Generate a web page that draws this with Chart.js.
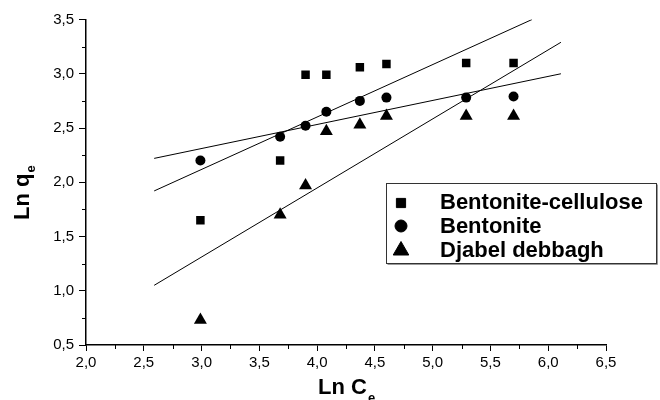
<!DOCTYPE html>
<html>
<head>
<meta charset="utf-8">
<script src="https://cdn.jsdelivr.net/npm/chart.js@4/dist/chart.umd.min.js"></script>
<style>
  html, body { margin: 0; padding: 0; background: #fff; }
  #wrap { width: 660px; height: 400px; position: relative; }
</style>
</head>
<body>
<div id="wrap"><canvas id="isoChart"></canvas></div>
<script>
// Ln Ce values shared by all three materials
const lnCe = [2.99, 3.68, 3.90, 4.08, 4.37, 4.60, 5.29, 5.70];
const lnQeCellulose = [1.65, 2.20, 2.99, 2.99, 3.06, 3.09, 3.10, 3.10];
const lnQeBentonite = [2.20, 2.42, 2.52, 2.65, 2.75, 2.78, 2.78, 2.79];
const lnQeDjabel = [0.73, 1.70, 1.97, 2.47, 2.53, 2.61, 2.61, 2.61];

// linear fit lines (end points)
const fitCelluloseX = [2.59, 5.86];
const fitCelluloseY = [1.92, 3.50];
const fitBentoniteX = [2.59, 6.11];
const fitBentoniteY = [2.22, 3.00];
const fitDjabelX = [2.59, 6.11];
const fitDjabelY = [1.05, 3.29];

const seriesNames = ['Bentonite-cellulose', 'Bentonite', 'Djabel debbagh'];
const xTicks = [2.0, 6.5];
const yTicks = [0.5, 3.5];

const toPoints = (xs, ys) => xs.map((x, i) => ({ x: x, y: ys[i] }));
const fmt = v => v.toFixed(1).replace('.', ',');
const FONT = '"Liberation Sans", Arial, sans-serif';

function fitLine(xs, ys) {
    return {
        type: 'line',
        data: toPoints(xs, ys),
        borderColor: '#000',
        borderWidth: 1,
        pointRadius: 0,
        fill: false,
        inLegend: false
    };
}

// minor ticks, titles with subscripts and the boxed legend
const extras = {
    id: 'extras',
    afterDraw(chart) {
        const ctx = chart.ctx;
        const xs = chart.scales.x, ys = chart.scales.y;
        const area = chart.chartArea;
        ctx.save();
        ctx.strokeStyle = '#000';
        ctx.lineWidth = 1;
        ctx.beginPath();
        for (let v = xTicks[0] + 0.25; v < xTicks[1]; v += 0.5) {
            const px = Math.round(xs.getPixelForValue(v)) + 0.5;
            ctx.moveTo(px, area.bottom);
            ctx.lineTo(px, area.bottom + 4);
        }
        for (let v = yTicks[0] + 0.25; v < yTicks[1]; v += 0.5) {
            const py = Math.round(ys.getPixelForValue(v)) + 0.5;
            ctx.moveTo(area.left, py);
            ctx.lineTo(area.left - 4, py);
        }
        ctx.stroke();

        // axis titles
        ctx.fillStyle = '#000';
        ctx.textBaseline = 'alphabetic';
        ctx.textAlign = 'left';
        ctx.font = 'bold 22px ' + FONT;
        const xt = 'Ln C';
        const xw = ctx.measureText(xt).width;
        const xStart = (area.left + area.right) / 2 - (xw + 7) / 2;
        ctx.fillText(xt, xStart, 394);
        ctx.font = 'bold 13px ' + FONT;
        ctx.fillText('e', xStart + xw + 1, 402);

        ctx.save();
        ctx.translate(29, 220);
        ctx.rotate(-Math.PI / 2);
        ctx.font = 'bold 22px ' + FONT;
        const yt = 'Ln q';
        const yw = ctx.measureText(yt).width;
        ctx.fillText(yt, 0, 0);
        ctx.font = 'bold 13px ' + FONT;
        ctx.fillText('e', yw + 1, 6);
        ctx.restore();

        // legend box
        const bx = 386.5, by = 183.5, bw = 270, bh = 80;
        ctx.fillStyle = '#fff';
        ctx.fillRect(bx, by, bw, bh);
        ctx.strokeStyle = '#999';
        ctx.beginPath();
        ctx.moveTo(bx + bw + 1, by + 1);
        ctx.lineTo(bx + bw + 1, by + bh + 1);
        ctx.lineTo(bx + 1, by + bh + 1);
        ctx.stroke();
        ctx.strokeStyle = '#333';
        ctx.strokeRect(bx, by, bw, bh);

        const rowBase = [209, 233, 257];
        const markY = [203, 226, 250.5];
        const markR = [6.5, 6, 9];
        let row = 0;
        chart.data.datasets.forEach(ds => {
            if (ds.inLegend === false) return;
            ctx.fillStyle = '#000';
            ctx.strokeStyle = '#000';
            Chart.helpers.drawPoint(ctx, {
                pointStyle: ds.pointStyle, radius: markR[row], rotation: 0, borderWidth: 1
            }, 401, markY[row]);
            ctx.font = 'bold 22px ' + FONT;
            ctx.fillStyle = '#000';
            ctx.fillText(ds.label, 440, rowBase[row]);
            row++;
        });
        ctx.restore();
    }
};

const axisCommon = {
    type: 'linear',
    border: { display: true, color: '#000', width: 1.5 },
    grid: { drawOnChartArea: false, drawTicks: true, tickColor: '#000', tickWidth: 1 },
    ticks: {
        stepSize: 0.5,
        color: '#000',
        font: { family: FONT, size: 15 },
        callback: v => fmt(v)
    }
};

new Chart(document.getElementById('isoChart'), {
    type: 'scatter',
    data: {
        datasets: [
            {
                label: seriesNames[0],
                data: toPoints(lnCe, lnQeCellulose),
                pointStyle: 'rect',
                pointRadius: 6,
                backgroundColor: '#000',
                borderColor: '#000',
                borderWidth: 0
            },
            {
                label: seriesNames[1],
                data: toPoints(lnCe, lnQeBentonite),
                pointStyle: 'circle',
                pointRadius: 5,
                backgroundColor: '#000',
                borderColor: '#000',
                borderWidth: 0
            },
            {
                label: seriesNames[2],
                data: toPoints(lnCe, lnQeDjabel),
                pointStyle: 'triangle',
                pointRadius: 7.5,
                backgroundColor: '#000',
                borderColor: '#000',
                borderWidth: 0
            },
            fitLine(fitCelluloseX, fitCelluloseY),
            fitLine(fitBentoniteX, fitBentoniteY),
            fitLine(fitDjabelX, fitDjabelY)
        ]
    },
    options: {
        responsive: true,
        maintainAspectRatio: false,
        animation: false,
        layout: { padding: { left: 0, right: 54, top: 19.5, bottom: 0 } },
        plugins: {
            legend: { display: false },
            tooltip: { enabled: false }
        },
        scales: {
            x: {
                ...axisCommon,
                min: xTicks[0], max: xTicks[1],
                grid: { ...axisCommon.grid, tickLength: 6 },
                ticks: { ...axisCommon.ticks, padding: 3, maxRotation: 0 },
                afterFit: scale => { scale.height = 55; }
            },
            y: {
                ...axisCommon,
                min: yTicks[0], max: yTicks[1],
                grid: { ...axisCommon.grid, tickLength: 7 },
                ticks: { ...axisCommon.ticks, padding: 5 },
                afterFit: scale => { scale.width = 86; }
            }
        }
    },
    plugins: [extras]
});
</script>
</body>
</html>
